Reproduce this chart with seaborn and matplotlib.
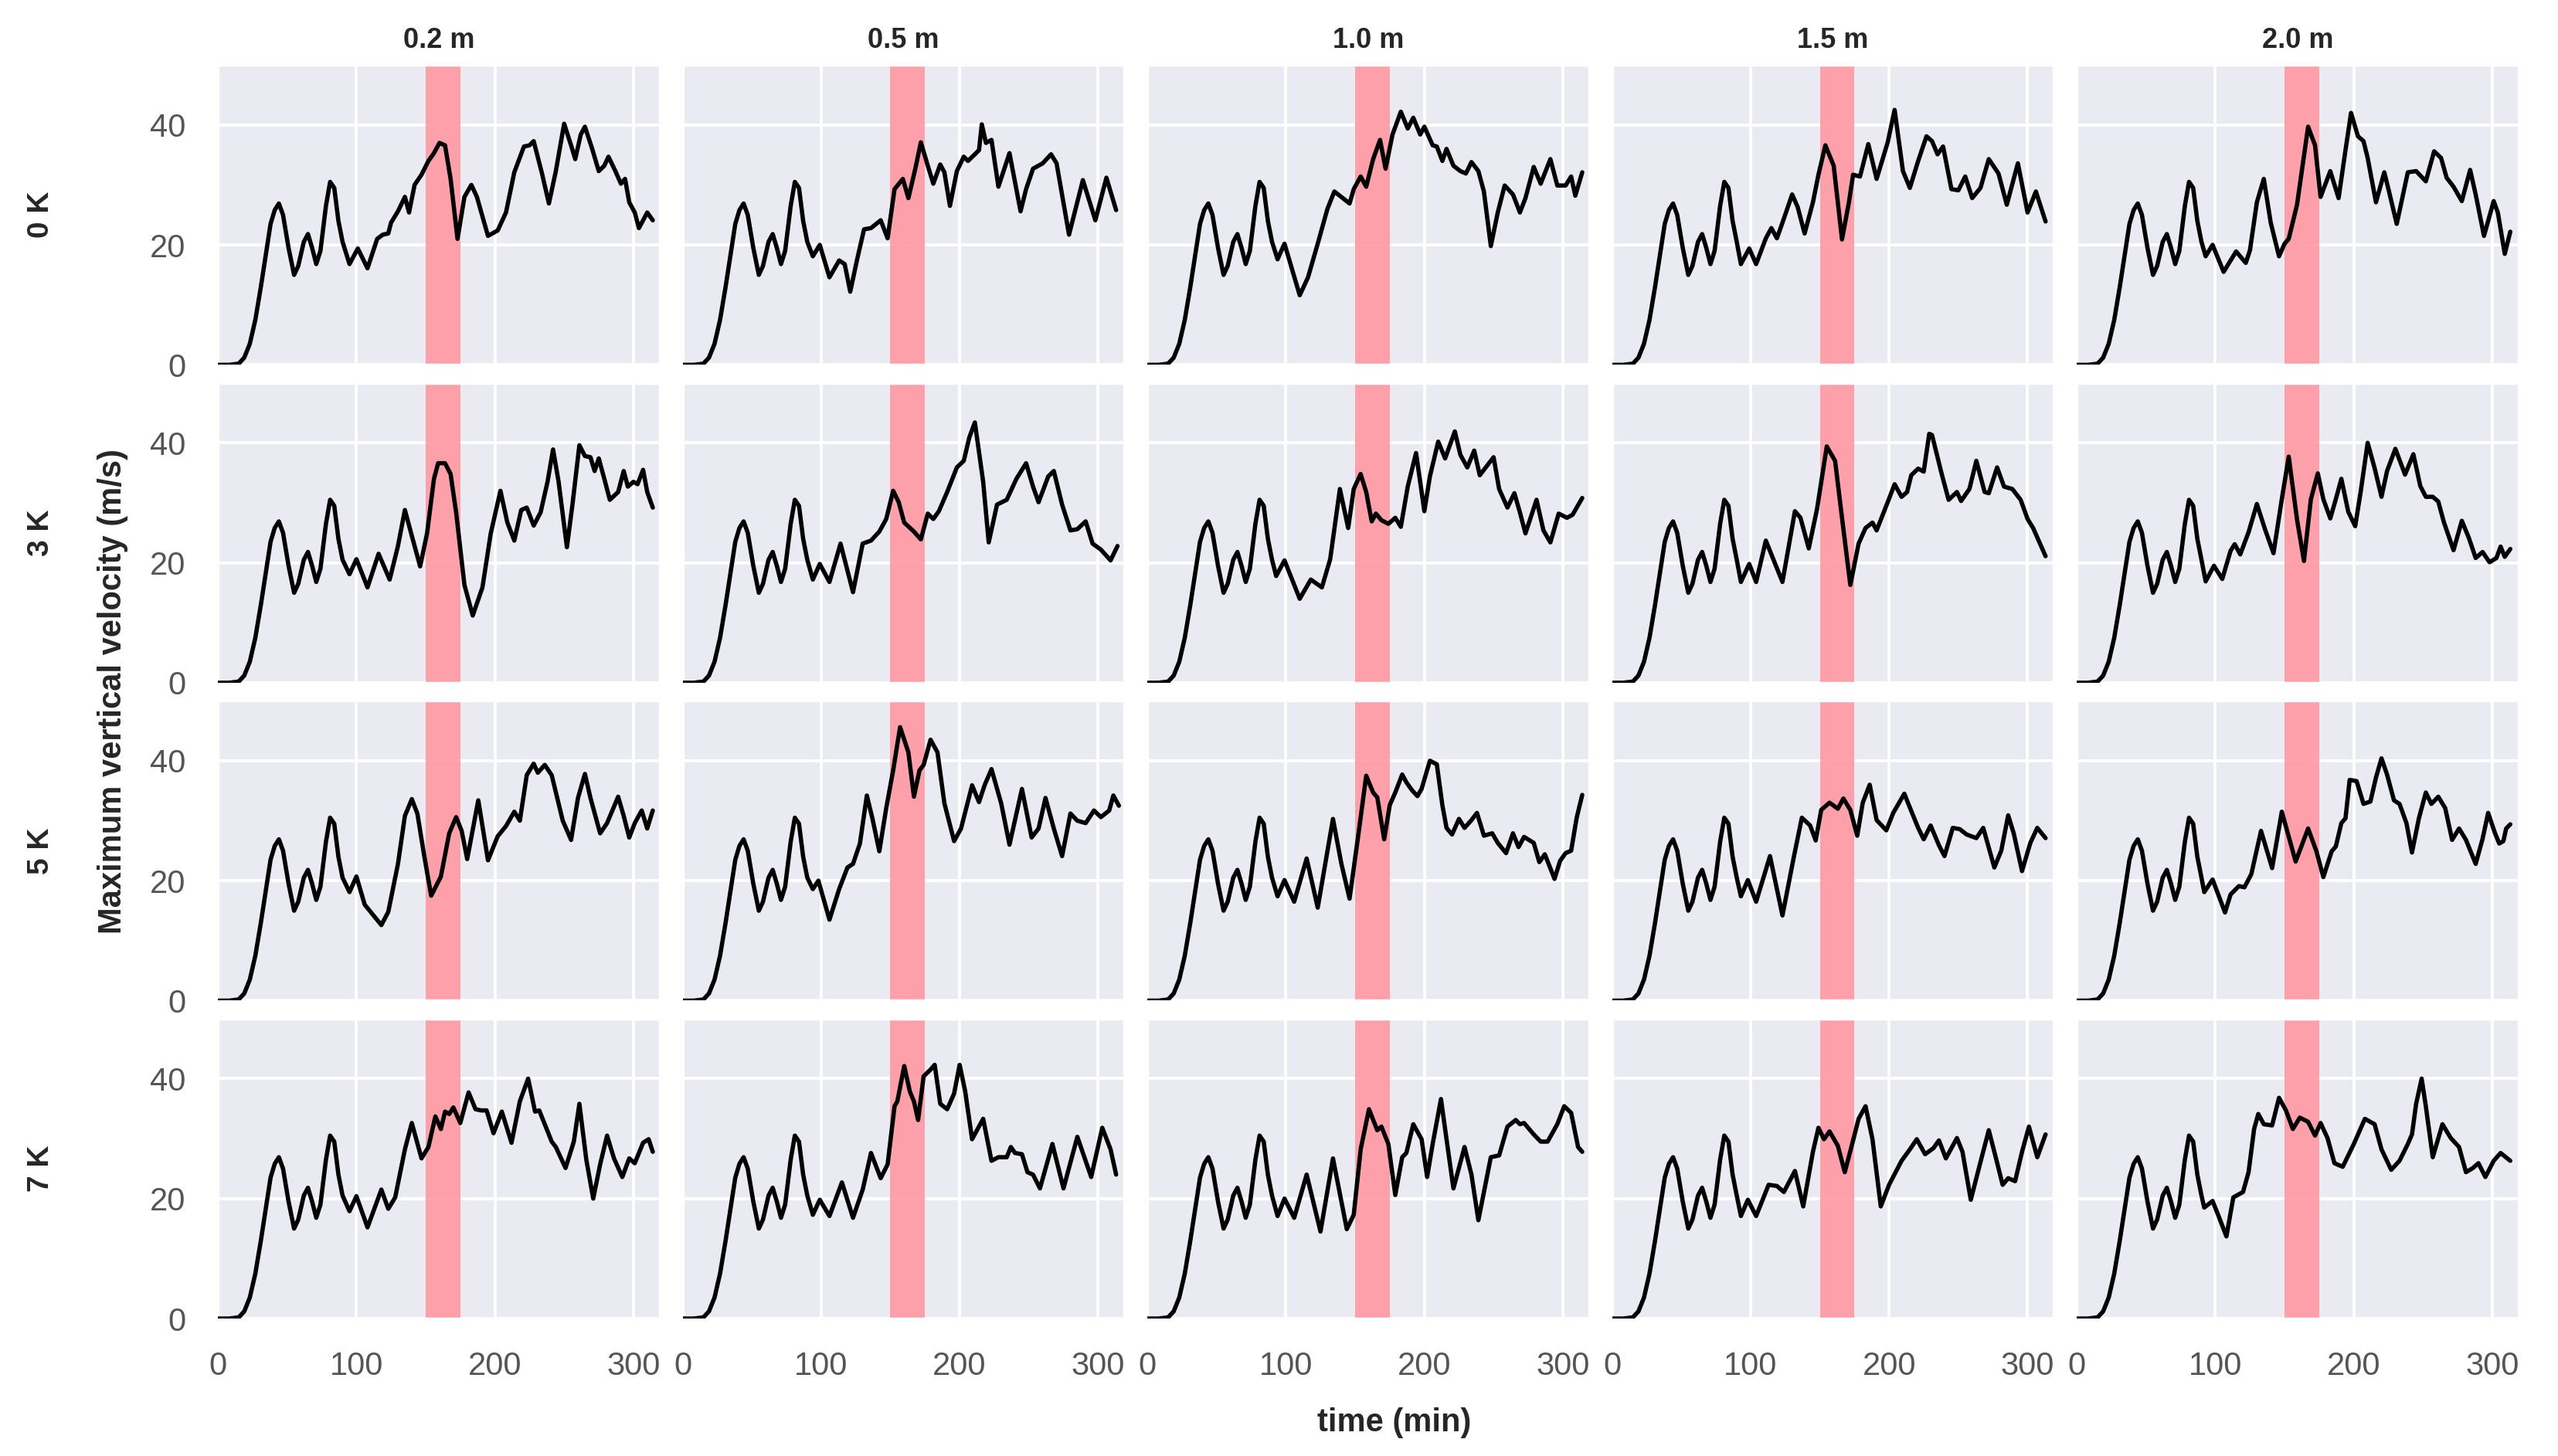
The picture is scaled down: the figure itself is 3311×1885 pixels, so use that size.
import pandas as pd
import matplotlib
matplotlib.use("Agg")
import matplotlib.pyplot as plt
import seaborn as sns

sns.set_theme(style="darkgrid")
plt.rcParams['font.family'] = ['Liberation Sans', 'DejaVu Sans']

dz_labels = ["0.2 m", "0.5 m", "1.0 m", "1.5 m", "2.0 m"]
dt_labels = ["0 K", "3 K", "5 K", "7 K"]

# spin-up shared by every run (time in min, w in m/s)
spinup = [(0, 0), (8, 0), (15, 0.2), (19, 1.2), (23, 3.5), (27, 7.5), (31, 13), (35, 19),
          (38, 23.5), (41, 25.8), (44, 26.9), (47, 25), (51, 19.5), (55, 15), (58, 16.5),
          (62, 20.5), (65, 21.8), (68, 19.5), (71, 16.8), (74, 19), (78, 26.5), (81, 30.5),
          (84, 29.5), (87, 24), (90, 20.5)]

# 0 K
k0_z02 = [(95, 16.8), (101, 19.4), (108, 16.1), (115, 21.0), (119, 21.7), (123, 21.9), (125, 23.7),
          (130, 25.6), (135, 28.0), (138, 25.4), (142, 30.0), (147, 31.7), (152, 34.0), (156, 35.3),
          (160, 37.0), (164, 36.6), (168, 31.0), (173, 21.0), (178, 28.0), (183, 30.0), (187, 28.0),
          (195, 21.5), (202, 22.4), (208, 25.4), (214, 32.1), (221, 36.4), (225, 36.6), (228, 37.3),
          (234, 31.9), (239, 26.9), (244, 32.3), (250, 40.2), (255, 36.6), (258, 34.3), (262, 38.4),
          (265, 39.7), (270, 36.2), (275, 32.3), (279, 33.2), (282, 34.7), (287, 32.3), (291, 30.2),
          (294, 31.0), (297, 27.1), (301, 25.4), (304, 22.8), (310, 25.4), (314, 24.1)]
k0_z05 = [(94, 18.1), (99, 20.0), (106, 14.6), (113, 17.4), (117, 16.8), (121, 12.2), (126, 17.6),
          (131, 22.6), (136, 22.8), (143, 24.1), (148, 21.1), (153, 29.3), (159, 31.0), (163, 27.8),
          (168, 32.7), (172, 37.1), (177, 33.2), (181, 30.2), (186, 33.4), (189, 32.1), (193, 26.5),
          (198, 32.3), (203, 34.7), (206, 34.0), (211, 35.1), (214, 35.8), (216, 40.1), (219, 37.0),
          (223, 37.5), (228, 29.7), (236, 35.3), (244, 25.6), (248, 29.3), (253, 32.7), (260, 33.6),
          (266, 35.1), (270, 33.6), (279, 21.7), (289, 30.8), (298, 24.1), (306, 31.2), (313, 25.8)]
k0_z10 = [(94, 17.6), (99, 20.2), (110, 11.6), (116, 14.6), (123, 20.2), (130, 26.0), (135, 28.9),
          (140, 28.0), (146, 26.9), (149, 29.3), (154, 31.4), (158, 29.7), (163, 34.3), (168, 37.5),
          (172, 32.7), (177, 38.4), (183, 42.2), (188, 39.4), (192, 41.2), (197, 38.4), (200, 39.7),
          (206, 36.6), (209, 36.4), (213, 34.0), (216, 36.0), (221, 33.2), (226, 32.3), (230, 31.9),
          (234, 33.8), (239, 32.3), (243, 28.9), (248, 19.8), (253, 25.4), (258, 29.9), (264, 28.4),
          (269, 25.4), (273, 27.8), (279, 33.0), (284, 30.2), (291, 34.3), (296, 29.9), (302, 29.9),
          (306, 31.4), (309, 28.2), (314, 32.1)]
k0_z15 = [(93, 16.8), (99, 19.4), (104, 16.8), (111, 21.1), (115, 22.8), (119, 21.1), (123, 23.7),
          (130, 28.4), (134, 26.3), (139, 21.9), (145, 27.1), (149, 31.7), (154, 36.6), (160, 33.2),
          (166, 20.9), (171, 27.1), (174, 31.7), (179, 31.4), (185, 36.8), (191, 31.0), (199, 37.1),
          (204, 42.5), (210, 32.3), (215, 29.5), (221, 34.0), (227, 38.1), (231, 37.3), (235, 35.1),
          (239, 36.4), (245, 29.3), (250, 29.1), (255, 31.4), (260, 27.8), (266, 29.5), (272, 34.3),
          (279, 31.9), (285, 26.7), (293, 33.6), (300, 25.4), (306, 28.9), (313, 23.9)]
k0_z20 = [(93, 18.1), (98, 20.0), (106, 15.5), (115, 18.9), (122, 17.0), (125, 19.1), (130, 27.1),
          (135, 31.0), (140, 23.7), (146, 18.1), (150, 20.2), (153, 21.0), (159, 26.7), (167, 39.7),
          (172, 36.6), (176, 28.0), (183, 32.3), (189, 27.8), (194, 35.8), (198, 42.0), (203, 38.1),
          (207, 37.3), (210, 34.5), (216, 27.1), (222, 32.1), (225, 29.3), (231, 23.5), (239, 32.1),
          (245, 32.3), (252, 30.6), (258, 35.6), (263, 34.5), (267, 31.2), (272, 29.7), (278, 27.3),
          (284, 32.5), (288, 28.4), (294, 21.5), (301, 27.3), (304, 25.4), (309, 18.5), (313, 22.2)]

# 3 K
k3_z02 = [(95, 18.1), (100, 20.6), (108, 15.9), (116, 21.5), (124, 17.2), (130, 22.8), (135, 28.8),
          (140, 24.5), (146, 19.4), (151, 24.9), (156, 34.0), (159, 36.6), (164, 36.6), (168, 34.8),
          (172, 28.4), (178, 16.3), (184, 11.2), (191, 15.9), (197, 24.9), (204, 32.0), (209, 26.7),
          (214, 23.7), (219, 28.8), (223, 29.2), (228, 26.2), (233, 28.4), (238, 33.5), (242, 38.9),
          (246, 33.5), (252, 22.6), (256, 29.7), (261, 39.6), (265, 37.8), (269, 37.6), (272, 35.3),
          (275, 37.4), (279, 34.0), (283, 30.5), (289, 31.8), (293, 35.3), (296, 32.7), (300, 33.5),
          (303, 33.1), (307, 35.5), (310, 31.8), (314, 29.2)]
k3_z05 = [(94, 17.2), (99, 19.8), (106, 16.8), (114, 23.2), (123, 15.1), (130, 23.2), (136, 23.7),
          (142, 25.2), (147, 27.3), (152, 32.0), (156, 30.1), (160, 26.7), (167, 25.2), (172, 23.9),
          (177, 28.2), (181, 27.3), (185, 28.6), (191, 31.8), (198, 35.9), (203, 37.0), (207, 40.9),
          (211, 43.4), (217, 33.5), (221, 23.4), (227, 29.7), (234, 30.5), (241, 34.0), (248, 36.6),
          (253, 32.7), (257, 30.1), (264, 34.4), (268, 35.3), (274, 29.7), (280, 25.4), (285, 25.6),
          (291, 26.9), (296, 23.2), (302, 22.2), (309, 20.4), (314, 22.8)]
k3_z10 = [(93, 17.8), (99, 20.4), (110, 14.0), (118, 17.2), (126, 15.9), (132, 20.6), (139, 32.3),
          (145, 25.8), (149, 32.3), (154, 34.8), (158, 31.8), (162, 26.9), (165, 28.2), (169, 27.1),
          (174, 26.5), (179, 27.5), (183, 26.0), (188, 32.7), (194, 38.3), (200, 28.6), (204, 34.4),
          (210, 40.2), (215, 37.4), (222, 41.9), (226, 38.0), (231, 35.9), (236, 38.7), (240, 34.6),
          (245, 36.1), (250, 37.6), (254, 32.3), (260, 29.2), (265, 31.6), (269, 28.4), (273, 24.9),
          (281, 30.5), (286, 25.4), (291, 23.4), (297, 28.2), (303, 27.5), (307, 28.0), (314, 30.8)]
k3_z15 = [(93, 16.8), (99, 19.8), (104, 16.8), (111, 23.7), (123, 16.8), (132, 28.6), (136, 27.5),
          (142, 22.4), (148, 29.0), (155, 39.4), (161, 37.0), (166, 27.5), (172, 16.3), (178, 23.2),
          (183, 25.8), (188, 26.7), (191, 25.4), (199, 30.1), (204, 33.1), (209, 31.0), (213, 31.8),
          (216, 34.6), (221, 35.7), (225, 35.2), (229, 41.5), (231, 41.3), (238, 34.8), (243, 30.5),
          (249, 31.8), (252, 30.3), (258, 32.3), (263, 37.0), (269, 31.8), (272, 31.6), (278, 35.9),
          (283, 32.7), (289, 32.3), (295, 30.5), (300, 27.3), (304, 25.8), (313, 21.1)]
k3_z20 = [(93, 16.9), (99, 19.5), (105, 17.3), (111, 22.0), (114, 23.1), (118, 21.4), (124, 25.1),
          (130, 29.8), (136, 25.5), (142, 21.6), (148, 30.6), (153, 37.7), (159, 27.2), (164, 20.3),
          (169, 30.6), (174, 34.9), (178, 30.6), (183, 27.4), (187, 30.6), (191, 34.0), (196, 28.5),
          (201, 26.1), (205, 31.9), (210, 40.0), (215, 35.8), (220, 31.0), (224, 35.3), (230, 39.0),
          (237, 34.7), (243, 38.1), (248, 32.8), (252, 31.0), (257, 31.0), (261, 30.2), (265, 26.8),
          (272, 22.1), (278, 27.0), (283, 24.2), (288, 20.8), (293, 21.8), (298, 20.1), (303, 20.8),
          (306, 22.7), (309, 21.0), (313, 22.3)]

# 5 K
k5_z02 = [(95, 18.1), (100, 20.7), (106, 16.0), (112, 14.3), (118, 12.6), (123, 14.8), (130, 22.8),
          (135, 30.8), (140, 33.6), (144, 31.2), (149, 24.1), (154, 17.5), (161, 20.7), (167, 27.9),
          (172, 30.6), (176, 28.3), (180, 23.6), (188, 33.4), (195, 23.4), (202, 27.4), (208, 29.1),
          (214, 31.5), (218, 30.0), (223, 37.6), (228, 39.5), (231, 38.0), (236, 39.3), (241, 37.6),
          (245, 33.8), (249, 30.0), (255, 26.8), (260, 33.8), (265, 37.8), (269, 33.8), (276, 27.9),
          (281, 29.6), (289, 34.0), (293, 30.8), (297, 27.2), (301, 29.6), (306, 31.7), (310, 28.7),
          (314, 31.7)]
k5_z05 = [(94, 18.6), (98, 20.0), (106, 13.5), (113, 18.6), (119, 22.2), (123, 22.8), (128, 26.2),
          (133, 34.2), (137, 30.4), (142, 24.9), (147, 32.1), (152, 38.4), (157, 45.6), (163, 41.4),
          (167, 34.0), (171, 38.4), (174, 39.3), (179, 43.5), (184, 41.4), (189, 32.9), (196, 26.6),
          (201, 28.7), (209, 35.9), (214, 33.1), (218, 35.9), (223, 38.6), (230, 32.9), (236, 26.0),
          (245, 35.3), (252, 27.2), (257, 28.7), (262, 33.8), (268, 28.7), (274, 24.1), (280, 31.2),
          (285, 30.0), (291, 29.6), (297, 31.7), (302, 30.6), (308, 31.7), (311, 34.2), (315, 32.5)]
k5_z10 = [(94, 17.4), (99, 20.1), (106, 16.5), (115, 23.7), (123, 15.5), (134, 30.3), (140, 22.9),
          (146, 17.0), (153, 28.8), (158, 37.5), (163, 34.7), (166, 33.9), (171, 26.9), (175, 32.6),
          (179, 34.7), (184, 37.7), (187, 36.4), (191, 35.1), (195, 34.1), (198, 35.3), (204, 40.0),
          (209, 39.4), (213, 32.6), (216, 28.8), (220, 27.7), (225, 30.3), (229, 28.8), (234, 30.1),
          (238, 31.3), (243, 27.5), (249, 27.9), (253, 26.3), (259, 24.6), (264, 27.9), (268, 25.6),
          (272, 27.3), (279, 26.3), (283, 23.1), (287, 24.4), (294, 20.3), (298, 23.3), (302, 24.6),
          (306, 25.0), (310, 30.5), (314, 34.3)]
k5_z15 = [(93, 17.4), (98, 20.1), (104, 16.5), (114, 24.1), (123, 14.2), (131, 23.7), (137, 30.5),
          (143, 29.2), (147, 26.7), (151, 31.8), (157, 33.0), (163, 32.0), (167, 33.7), (172, 31.8),
          (177, 27.5), (181, 33.0), (186, 36.0), (191, 30.1), (198, 28.4), (203, 31.3), (211, 34.5),
          (215, 32.2), (221, 28.8), (225, 26.9), (230, 29.2), (236, 25.9), (240, 24.1), (246, 28.8),
          (251, 28.6), (256, 27.7), (263, 27.1), (268, 28.8), (276, 22.2), (281, 25.0), (286, 30.9),
          (290, 27.9), (296, 21.6), (302, 26.3), (307, 28.8), (313, 27.1)]
k5_z20 = [(92, 18.1), (98, 20.2), (107, 14.7), (111, 17.7), (117, 19.1), (121, 18.9), (126, 21.1),
          (133, 28.3), (141, 22.1), (148, 31.5), (158, 23.2), (167, 28.7), (173, 24.9), (178, 20.6),
          (184, 24.9), (187, 25.7), (191, 29.6), (194, 30.4), (197, 36.8), (202, 36.6), (207, 32.8),
          (212, 33.2), (216, 37.2), (220, 40.4), (224, 37.7), (229, 33.4), (233, 32.8), (238, 29.6),
          (242, 24.7), (247, 30.4), (252, 34.7), (256, 32.8), (261, 34.0), (266, 32.1), (271, 26.8),
          (276, 28.7), (281, 26.8), (288, 22.8), (293, 27.0), (297, 31.3), (302, 27.9), (305, 26.2),
          (308, 26.6), (310, 28.7), (313, 29.4)]

# 7 K
k7_z02 = [(95, 17.9), (100, 20.4), (108, 15.2), (118, 21.5), (123, 18.3), (128, 20.2), (135, 28.2),
          (140, 32.6), (147, 26.7), (152, 28.6), (157, 33.7), (161, 31.6), (164, 34.5), (167, 34.1),
          (170, 35.2), (175, 32.6), (181, 37.7), (186, 34.9), (190, 34.7), (194, 34.7), (199, 30.9),
          (205, 34.5), (212, 29.3), (218, 36.2), (224, 40.0), (229, 34.5), (232, 34.7), (236, 32.4),
          (241, 29.5), (244, 28.6), (251, 25.1), (257, 29.5), (261, 35.8), (266, 26.5), (271, 20.0),
          (276, 25.7), (281, 30.5), (286, 26.7), (292, 23.6), (297, 26.7), (301, 25.9), (307, 29.3),
          (311, 29.9), (314, 27.8)]
k7_z05 = [(94, 17.3), (99, 19.8), (106, 17.1), (115, 22.7), (123, 16.8), (130, 21.5), (136, 27.6),
          (143, 23.4), (148, 25.7), (153, 35.4), (155, 36.2), (160, 42.1), (164, 37.9), (167, 36.2),
          (170, 33.1), (174, 40.4), (179, 41.5), (182, 42.3), (186, 35.8), (191, 34.9), (196, 37.5),
          (200, 42.3), (204, 37.9), (209, 29.9), (217, 33.3), (223, 26.3), (228, 26.9), (234, 26.9),
          (237, 28.6), (240, 27.6), (245, 27.4), (249, 24.4), (253, 24.0), (258, 21.7), (267, 29.1),
          (275, 21.7), (285, 30.3), (295, 23.6), (303, 31.8), (309, 28.2), (313, 24.0)]
k7_z10 = [(94, 17.1), (99, 20.0), (106, 16.8), (115, 24.0), (125, 14.5), (134, 26.7), (144, 14.9),
          (149, 17.3), (154, 28.2), (160, 34.9), (166, 31.4), (169, 32.0), (174, 29.1), (179, 20.6),
          (184, 26.9), (187, 27.6), (192, 32.4), (198, 29.9), (202, 23.6), (206, 29.1), (212, 36.6),
          (216, 29.9), (221, 21.7), (229, 28.6), (234, 24.0), (239, 16.4), (248, 26.9), (254, 27.2),
          (260, 32.0), (266, 33.1), (269, 32.4), (272, 32.6), (279, 30.7), (284, 29.5), (289, 29.5),
          (296, 32.4), (301, 35.4), (306, 34.3), (311, 28.6), (314, 27.8)]
k7_z15 = [(93, 17.1), (98, 19.8), (104, 17.1), (113, 22.3), (119, 22.1), (124, 21.1), (132, 24.6),
          (138, 18.7), (145, 27.8), (149, 31.8), (153, 29.9), (157, 31.2), (163, 28.8), (168, 24.4),
          (173, 28.8), (178, 33.3), (183, 35.4), (188, 29.9), (194, 18.7), (200, 22.3), (209, 26.3),
          (215, 28.2), (220, 29.9), (226, 27.4), (232, 28.4), (236, 29.7), (241, 26.7), (249, 30.1),
          (253, 27.8), (259, 19.8), (266, 26.1), (272, 31.4), (277, 26.9), (282, 22.3), (286, 23.4),
          (291, 22.9), (296, 27.8), (301, 32.0), (307, 26.9), (313, 30.7)]
k7_z20 = [(92, 18.5), (98, 19.6), (102, 17.3), (108, 13.7), (113, 20.2), (120, 21.1), (124, 24.4),
          (128, 31.6), (131, 34.1), (135, 32.4), (141, 32.2), (146, 36.8), (151, 34.7), (156, 31.6),
          (161, 33.5), (167, 32.8), (172, 30.5), (176, 32.6), (181, 30.1), (186, 25.9), (192, 25.3),
          (200, 29.1), (208, 33.3), (215, 32.4), (220, 28.2), (227, 24.8), (233, 26.3), (239, 29.1),
          (242, 30.7), (245, 35.8), (249, 40.0), (252, 35.4), (257, 26.9), (264, 32.4), (270, 30.1),
          (276, 28.6), (281, 24.4), (286, 25.1), (290, 25.9), (295, 23.6), (301, 26.3), (306, 27.6),
          (313, 26.3)]

runs = [[k0_z02, k0_z05, k0_z10, k0_z15, k0_z20],
        [k3_z02, k3_z05, k3_z10, k3_z15, k3_z20],
        [k5_z02, k5_z05, k5_z10, k5_z15, k5_z20],
        [k7_z02, k7_z05, k7_z10, k7_z15, k7_z20]]

records = []
for i, dT in enumerate(dt_labels):
    for j, dz in enumerate(dz_labels):
        for t, w in spinup + runs[i][j]:
            records.append((dT, dz, t, w))
df = pd.DataFrame(records, columns=["dT", "dz", "time", "w"])

fig, axes = plt.subplots(4, 5, figsize=(16.555, 9.425), dpi=200, sharex=True, sharey=True)
fig.subplots_adjust(left=0.0852, right=0.9846, top=0.9554, bottom=0.0944,
                    wspace=0.052, hspace=0.06)

for i, dT in enumerate(dt_labels):
    for j, dz in enumerate(dz_labels):
        ax = axes[i, j]
        sub = df[(df["dT"] == dT) & (df["dz"] == dz)]
        # perturbation window
        ax.axvspan(150, 175, facecolor="#ff9aa3", alpha=0.92, lw=0, zorder=1.5)
        sns.lineplot(data=sub, x="time", y="w", ax=ax, color="black", lw=2.0,
                     estimator=None, zorder=3)
        ax.set_xlabel("")
        ax.set_ylabel("")
        ax.grid(True, color="white", lw=1.4)
        ax.tick_params(labelsize=15, labelcolor="#555555", pad=9)
        if i == 0:
            ax.set_title(dz, fontsize=13, fontweight="bold", pad=8)
        if j == 0:
            ax.text(-0.40, 0.5, dT, transform=ax.transAxes, rotation=90,
                    ha="center", va="center", fontsize=14, fontweight="bold")

axes[0, 0].set_xlim(0, 319)
axes[0, 0].set_ylim(0, 50)
axes[0, 0].set_xticks([0, 100, 200, 300])
axes[0, 0].set_yticks([0, 20, 40])

fig.text(0.044, 0.525, "Maximum vertical velocity (m/s)", rotation=90,
         ha="center", va="center", fontsize=15, fontweight="bold")
fig.text(0.545, 0.023, "time (min)", ha="center", va="center",
         fontsize=15, fontweight="bold")

plt.savefig("out.png", dpi=200)
